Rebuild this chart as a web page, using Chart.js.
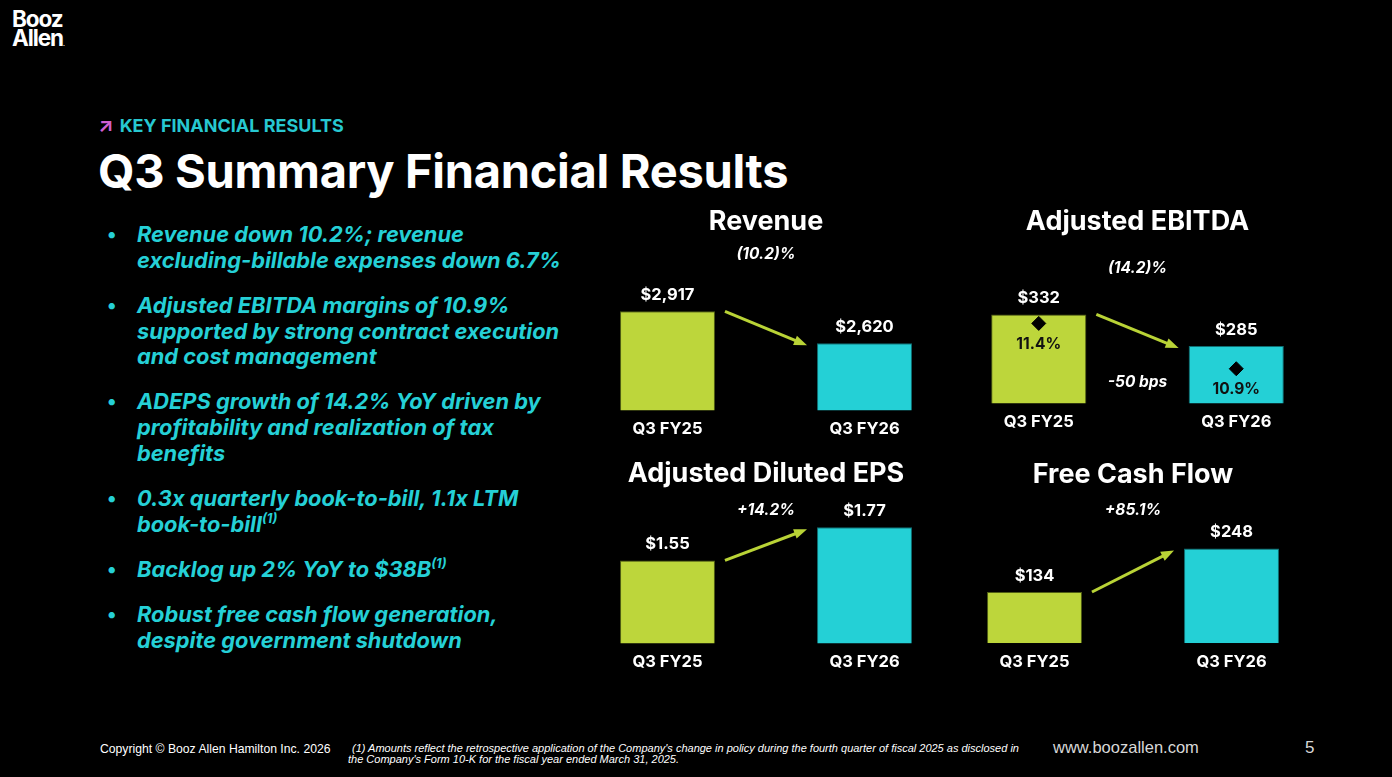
<!DOCTYPE html>
<html>
<head>
<meta charset="utf-8">
<title>Q3 Summary Financial Results</title>
<script src="https://cdn.jsdelivr.net/npm/chart.js@4.4.1/dist/chart.umd.min.js"></script>
<style>
  html, body { margin: 0; padding: 0; background: #000; }
  body { width: 1392px; height: 777px; position: relative; overflow: hidden; font-family: Inter, "Noto Sans", sans-serif; color: #fff; }
  .logo { position: absolute; left: 12px; top: 9px; font-weight: 700; font-size: 22.5px; line-height: 19px; letter-spacing: -1.1px; }
  .kicker { position: absolute; left: 98px; top: 113px; font-size: 18px; font-weight: 700; color: #27c8d1; line-height: 24px; }
  .kicker span { color: #d05fd3; margin-right: 6px; font-size: 20px; }
  h1 { position: absolute; left: 98px; top: 142px; margin: 0; font-size: 47px; line-height: 58px; font-weight: 700; letter-spacing: -0.3px; }
  .bullets { position: absolute; left: 107px; top: 222px; margin: 0; padding: 0; list-style: none; font-style: italic; font-weight: 700; font-size: 21.8px; line-height: 25.8px; color: #25d0d6; white-space: nowrap; }
  .bullets li { position: relative; padding-left: 30px; margin-bottom: 19.2px; }
  .bullets li:before { content: "\2022"; position: absolute; left: 0; font-style: normal; font-size: 20px; }
  .bullets sup { font-size: 13px; line-height: 0; vertical-align: baseline; position: relative; top: -9px; }
  canvas { position: absolute; }
  .foot { position: absolute; font-family: "Liberation Sans", Arial, sans-serif; }
  .copy { left: 100px; top: 742px; font-size: 12.2px; line-height: 15px; }
  .note { left: 348px; top: 743px; font-family: "Liberation Sans Narrow", "Liberation Sans", sans-serif; font-style: italic; font-size: 11px; line-height: 11px; }
  .note div:first-child { padding-left: 4px; }
  .url { left: 1053px; top: 737px; font-size: 16.5px; line-height: 20px; color: #d8d8d8; }
  .page { left: 1305px; top: 737px; font-size: 17px; line-height: 21px; color: #d8d8d8; }
</style>
</head>
<body>
<div class="logo">Booz<br>Allen<span style="font-size:6px">.</span></div>
<div class="kicker"><span>&#8599;</span>KEY FINANCIAL RESULTS</div>
<h1>Q3 Summary Financial Results</h1>
<ul class="bullets">
  <li>Revenue down 10.2%; revenue<br>excluding-billable expenses down 6.7%</li>
  <li>Adjusted EBITDA margins of 10.9%<br>supported by strong contract execution<br>and cost management</li>
  <li>ADEPS growth of 14.2% YoY driven by<br>profitability and realization of tax<br>benefits</li>
  <li>0.3x quarterly book-to-bill, 1.1x LTM<br>book-to-bill<sup>(1)</sup></li>
  <li>Backlog up 2% YoY to $38B<sup>(1)</sup></li>
  <li>Robust free cash flow generation,<br>despite government shutdown</li>
</ul>

<canvas id="revChart" width="394" height="247" style="left:569px;top:200px"></canvas>
<canvas id="ebitdaChart" width="395" height="240" style="left:940px;top:200px"></canvas>
<canvas id="epsChart" width="394" height="230" style="left:569px;top:450px"></canvas>
<canvas id="fcfChart" width="394" height="230" style="left:936px;top:450px"></canvas>

<div class="foot copy">Copyright &copy; Booz Allen Hamilton Inc. 2026</div>
<div class="foot note">
  <div>(1) Amounts reflect the retrospective application of the Company's change in policy during the fourth quarter of fiscal 2025 as disclosed in</div>
  <div>the Company's Form 10-K for the fiscal year ended March 31, 2025.</div>
</div>
<div class="foot url">www.boozallen.com</div>
<div class="foot page">5</div>

<script>
// ---- DATA ----
const categories = ['Q3 FY25', 'Q3 FY26'];
const revenue = [2917, 2620];
const ebitda = [332, 285];
const ebitdaMargin = [11.4, 10.9];
const eps = [1.55, 1.77];
const freeCashFlow = [134, 248];
const changes = ['(10.2)%', '(14.2)%', '+14.2%', '+85.1%'];
const marginChange = '-50 bps';

const LIME = '#bdd63b';
const CYAN = '#24d0d6';
const ARROW = '#b9d336';
const FONT = 'Inter, "Noto Sans", sans-serif';

const money0 = v => '$' + v.toLocaleString('en-US');
const money2 = v => '$' + v.toFixed(2);

// value labels, change arrow and margin labels
const decor = {
  id: 'decor',
  afterDatasetsDraw(chart, args, opts) {
    const ctx = chart.ctx;
    const area = chart.chartArea;
    const bars = chart.getDatasetMeta(0).data;
    const values = chart.data.datasets[0].data;
    ctx.save();
    ctx.textAlign = 'center';
    ctx.textBaseline = 'middle';
    ctx.fillStyle = '#fff';
    ctx.font = 'bold 16.5px ' + FONT;
    bars.forEach((b, i) => ctx.fillText(opts.fmt(values[i]), b.x, b.y - 16));

    // arrow between bars
    const a = bars[0], c = bars[1];
    const x1 = a.x + a.width / 2 + 10, y1 = a.y;
    const x2 = c.x - c.width / 2 - 10, y2 = c.y + 2;
    const ang = Math.atan2(y2 - y1, x2 - x1);
    const head = 13;
    ctx.strokeStyle = ARROW;
    ctx.fillStyle = ARROW;
    ctx.lineWidth = 3;
    ctx.beginPath();
    ctx.moveTo(x1, y1);
    ctx.lineTo(x2 - head * 0.8 * Math.cos(ang), y2 - head * 0.8 * Math.sin(ang));
    ctx.stroke();
    ctx.beginPath();
    ctx.moveTo(x2, y2);
    ctx.lineTo(x2 - head * Math.cos(ang) + 5 * Math.sin(ang), y2 - head * Math.sin(ang) - 5 * Math.cos(ang));
    ctx.lineTo(x2 - head * Math.cos(ang) - 5 * Math.sin(ang), y2 - head * Math.sin(ang) + 5 * Math.cos(ang));
    ctx.closePath();
    ctx.fill();

    // margin points (EBITDA only)
    if (chart.data.datasets.length > 1) {
      const pts = chart.getDatasetMeta(1).data;
      const m = chart.data.datasets[1].data;
      ctx.fillStyle = '#111';
      ctx.font = 'bold 15.5px ' + FONT;
      pts.forEach((p, i) => ctx.fillText(m[i].toFixed(1) + '%', p.x, p.y + 21));
      ctx.fillStyle = '#fff';
      ctx.font = 'italic bold 15.5px ' + FONT;
      ctx.fillText(marginChange, (x1 + x2) / 2, area.bottom - 21);
    }
    ctx.restore();
  }
};

const makeChart = (id, title, change, values, fmt, yMin, yMax, pads, extra) => {
  const datasets = [{
    data: values,
    backgroundColor: [LIME, CYAN],
    borderColor: ['#4f5e14', '#0f6f73'],
    borderWidth: 1,
    barPercentage: 0.482,
    categoryPercentage: 1
  }];
  const scales = {
    x: {
      grid: { display: false, drawTicks: false },
      border: { display: false },
      ticks: { color: '#fff', padding: 8.5, font: { family: FONT, size: 16.5, weight: 'bold' } }
    },
    y: { display: false, min: yMin, max: yMax }
  };
  if (extra) {
    datasets.push({
      type: 'line',
      data: extra.data,
      yAxisID: 'y2',
      showLine: false,
      order: -1,
      pointStyle: 'rectRot',
      pointRadius: 7,
      backgroundColor: '#000',
      borderColor: '#000'
    });
    scales.y2 = { display: false, min: extra.min, max: extra.max };
  }
  return new Chart(document.getElementById(id), {
    type: 'bar',
    data: { labels: categories, datasets },
    options: {
      responsive: false,
      animation: false,
      layout: { padding: 0, autoPadding: false },
      plugins: {
        legend: { display: false },
        tooltip: { enabled: false },
        title: {
          display: true, text: title, color: '#fff',
          font: { family: FONT, size: 27, weight: 'bold' },
          padding: { top: pads[0] + 1.5, bottom: pads[1] - 1.5 }
        },
        subtitle: {
          display: true, text: change, color: '#fff',
          font: { family: FONT, size: 15.5, weight: 'bold', style: 'italic' },
          padding: { top: pads[2], bottom: pads[3] }
        },
        decor: { fmt }
      },
      scales
    },
    plugins: [decor]
  });
};

makeChart('revChart', 'Revenue', changes[0], revenue, money0, 2000, 3200, [4, 4, 4.8, 17]);
makeChart('ebitdaChart', 'Adjusted EBITDA', changes[1], ebitda, money0, 200, 382, [4.4, 4, 18.4, 3],
  { data: ebitdaMargin, min: 10.52, max: 11.87 });
makeChart('epsChart', 'Adjusted Diluted EPS', changes[2], eps, money2, 1.0, 1.8, [6.4, 4, 8.4, 3]);
makeChart('fcfChart', 'Free Cash Flow', changes[3], freeCashFlow, money0, 0, 315, [7.4, 4, 7.4, 3]);
</script>
</body>
</html>
